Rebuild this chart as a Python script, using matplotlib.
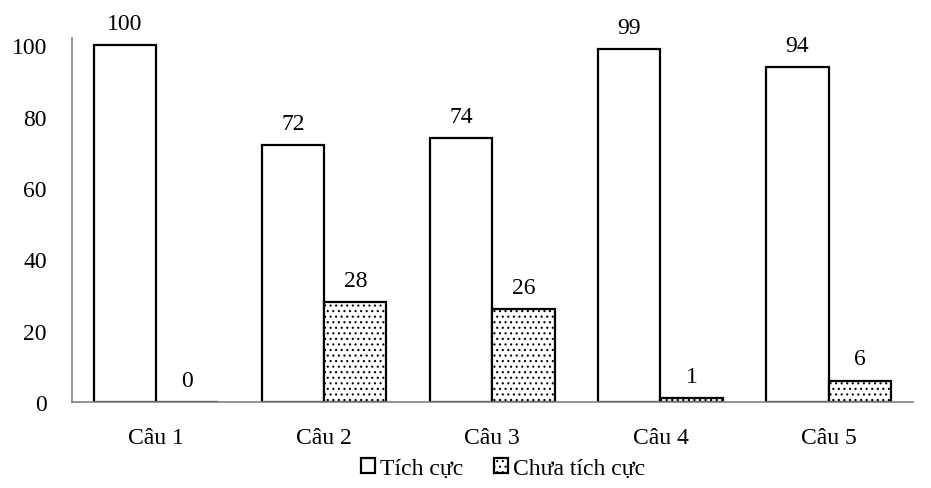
import matplotlib.pyplot as plt
import numpy as np

# Survey results per question (percent).
categories = ["Câu 1", "Câu 2", "Câu 3", "Câu 4", "Câu 5"]
tich_cuc = [100, 72, 74, 99, 94]
chua_tich_cuc = [0, 28, 26, 1, 6]
series_names = ["Tích cực", "Chưa tích cực"]

plt.rcParams["font.family"] = ["Liberation Serif", "DejaVu Serif"]
plt.rcParams["hatch.linewidth"] = 0.8

fig = plt.figure(figsize=(9.31, 4.89), dpi=100)
ax = fig.add_axes([0.0773, 0.176, 0.903, 0.744])

x = np.arange(len(categories))
width = 0.37

bars1 = ax.bar(x - width / 2, tich_cuc, width, color="white", edgecolor="black",
               linewidth=1.6, label=series_names[0])
bars2 = ax.bar(x + width / 2, chua_tich_cuc, width, color="white", edgecolor="black",
               linewidth=1.6, hatch="...", label=series_names[1])

for bars, vals in ((bars1, tich_cuc), (bars2, chua_tich_cuc)):
    for b, v in zip(bars, vals):
        ax.annotate(str(v), (b.get_x() + b.get_width() / 2, v),
                    xytext=(0, 8), textcoords="offset points",
                    ha="center", va="bottom", fontsize=17)

ax.set_xlim(-0.5, len(categories) - 0.5)
ax.set_ylim(0, 102)
ax.set_yticks([0, 20, 40, 60, 80, 100])
ax.set_xticks(x)
ax.set_xticklabels(categories)
ax.tick_params(axis="both", length=0, labelsize=17)
ax.tick_params(axis="y", pad=18)
ax.tick_params(axis="x", pad=18)

for side in ("top", "right"):
    ax.spines[side].set_visible(False)
for side in ("left", "bottom"):
    ax.spines[side].set_color("#808080")
    ax.spines[side].set_linewidth(1.2)

fig.legend(handles=[bars1, bars2], labels=series_names, loc="center",
           bbox_to_anchor=(0.54, 0.04), ncol=2, frameon=False, fontsize=17,
           handlelength=0.6, handleheight=0.6, handletextpad=0.2, columnspacing=1.3)

fig.savefig("out.png", dpi=100)
